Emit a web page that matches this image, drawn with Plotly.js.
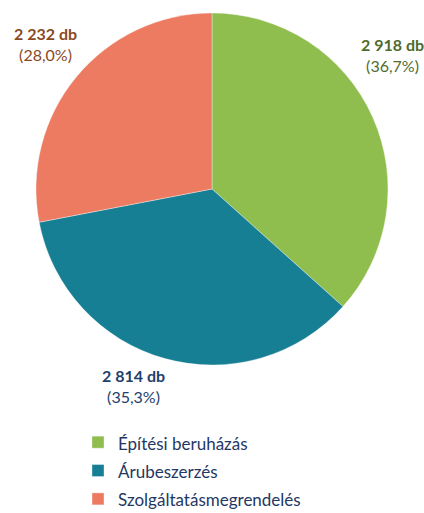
<!DOCTYPE html>
<html>
<head>
<meta charset="utf-8">
<script src="https://cdn.plot.ly/plotly-3.0.1.min.js"></script>
<style>html,body{margin:0;padding:0;background:#fff;}#chart{width:424px;height:513px;}</style>
</head>
<body>
<div id="chart"></div>
<script>
const categories = ["Építési beruházás", "Árubeszerzés", "Szolgáltatásmegrendelés"];
const counts = [2918, 2814, 2232];
const shares = ["36,7%", "35,3%", "28,0%"];
const sliceColors = ["#8fbd4e", "#167f93", "#ec7b62"];
const labelColors = ["#4f6c2d", "#243f6b", "#8a4a1f"];
const labelPos = [[392, 55], [133, 386], [45, 44]];

const fmt = n => String(n).replace(/\B(?=(\d{3})+(?!\d))/g, " ");
const W = 424, H = 513;

const annotations = categories.map((c, i) => ({
  xref: "paper", yref: "paper",
  x: labelPos[i][0] / W, y: 1 - labelPos[i][1] / H,
  xanchor: "center", yanchor: "middle",
  text: "<b>" + fmt(counts[i]) + " db</b><br>(" + shares[i] + ")",
  showarrow: false,
  align: "center",
  font: {family: "Lato, 'Open Sans', sans-serif", size: 16, color: labelColors[i]}
}));

const data = [{
  type: "pie",
  labels: categories.map(c => '<span style="font-size:17px">' + c + '</span>'),
  values: counts,
  sort: false,
  direction: "clockwise",
  rotation: 0,
  textinfo: "none",
  hoverinfo: "none",
  marker: {colors: sliceColors, line: {color: "rgba(255,255,255,0.6)", width: 0.6}},
  domain: {x: [36 / W, 388 / W], y: [1 - 365 / H, 1 - 13 / H]}
}];

const layout = {
  width: W, height: H,
  margin: {l: 0, r: 0, t: 0, b: 0, autoexpand: false},
  paper_bgcolor: "#fff",
  showlegend: true,
  legend: {
    x: 78 / W, y: 1 - 423 / H, xanchor: "left", yanchor: "top",
    orientation: "v",
    font: {family: "Lato, 'Open Sans', sans-serif", size: 19.5, color: "#1f3864"},
    bgcolor: "rgba(0,0,0,0)"
  },
  annotations: annotations
};

Plotly.newPlot("chart", data, layout, {staticPlot: true, displayModeBar: false});
</script>
</body>
</html>
